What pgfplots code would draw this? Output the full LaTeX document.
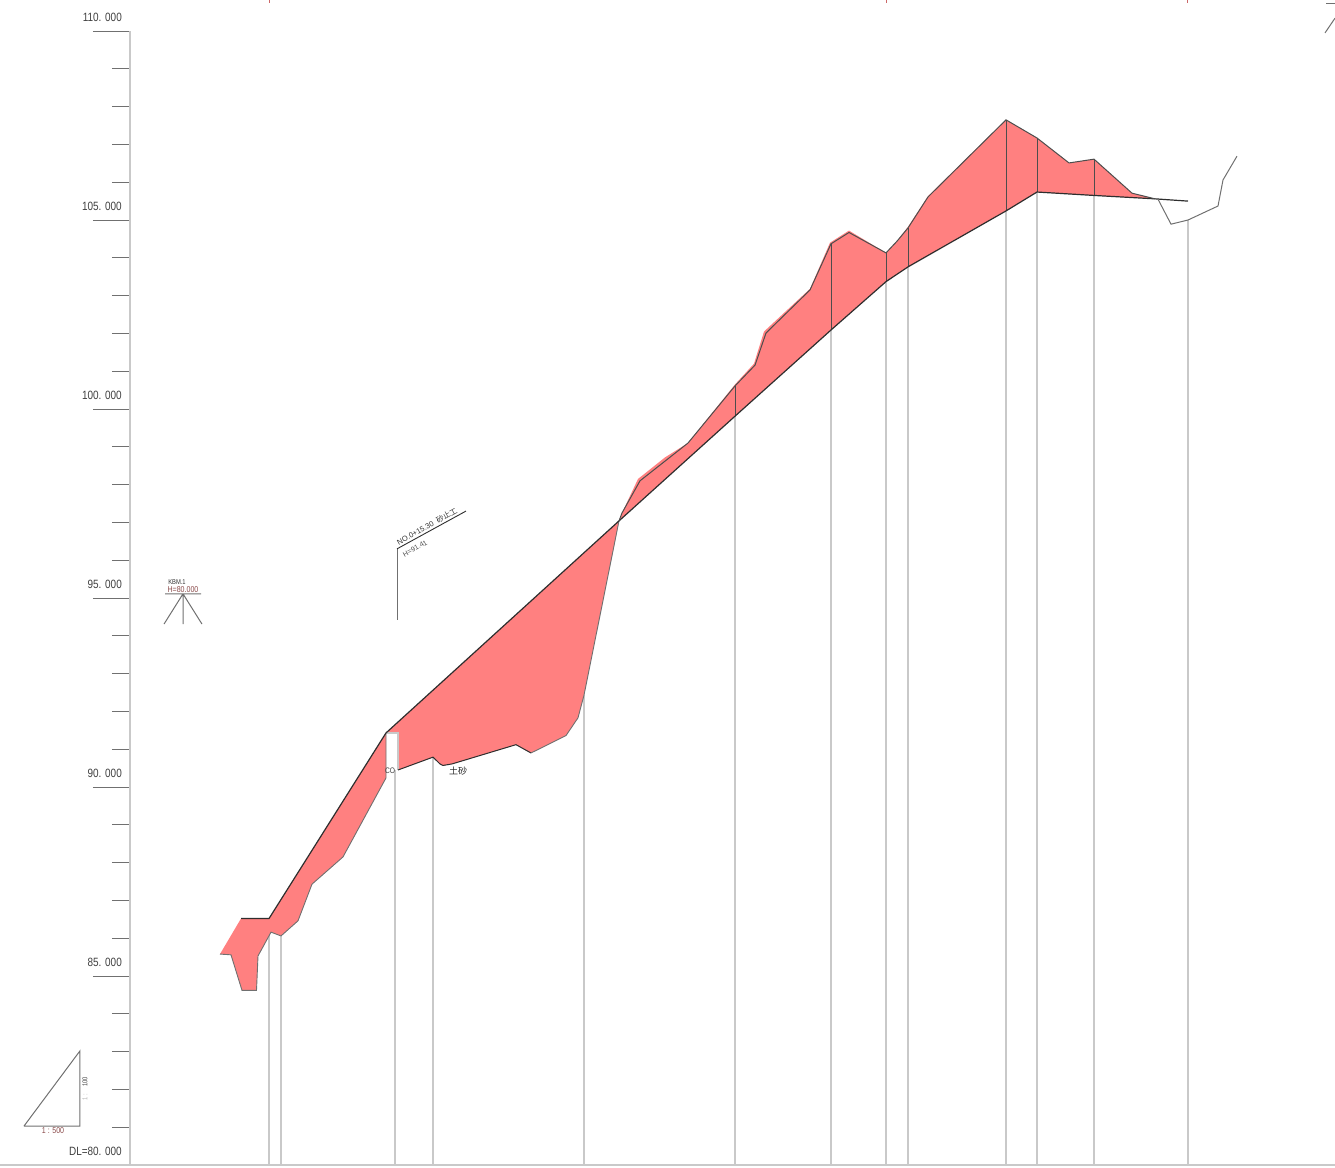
\documentclass[border=0pt]{standalone}
\usepackage{fontspec}
\setmainfont[FakeStretch=0.83]{Liberation Sans}
\newfontfamily\notefont{Liberation Sans}
\newfontfamily\jpfont{Noto Sans CJK JP}
\usepackage{pgfplots}
\pgfplotsset{compat=1.18}
\definecolor{cutred}{HTML}{FF8080}
\definecolor{darkline}{HTML}{2E2E2E}
\definecolor{gridgray}{HTML}{C9C9C9}
\definecolor{tickgray}{HTML}{707070}
\definecolor{notebrown}{HTML}{8A4A4A}
\begin{document}
\begin{tikzpicture}
\useasboundingbox (-130pt,-2pt) rectangle (1205pt,1165pt);
\begin{axis}[
    scale only axis,
    width=1205pt,
    height=1134pt,
    xmin=130, xmax=1335,
    ymin=80, ymax=110,
    clip=false,
    axis lines*=left,
    axis line style={gridgray, line width=2pt},
    xtick=\empty,
    ytick={80,85,90,95,100,105,110},
    yticklabels={DL=80. 000,85. 000,90. 000,95. 000,100. 000,105. 000,110. 000},
    minor ytick={81,82,83,84,86,87,88,89,91,92,93,94,96,97,98,99,101,102,103,104,106,107,108,109},
    tick align=outside,
    major tick length=37pt,
    minor tick length=18pt,
    tick style={tickgray, line width=0.9pt},
    yticklabel style={anchor=east, inner sep=0pt, xshift=29pt, yshift=14pt, font=\fontsize{12}{14}\selectfont, text=black!75},
    unbounded coords=jump,
]
% baseline left of the axis
\addplot[gridgray, line width=1.2pt] coordinates {(0,80) (130,80)};
% station verticals
\addplot[gridgray, line width=1.3pt] coordinates {
 (269,80) (269,86.16) (269,nan)
 (281,80) (281,86.06) (281,nan)
 (395,80) (395,90.45) (395,nan)
 (433,80) (433,90.79) (433,nan)
 (584,80) (584,92.43) (584,nan)
 (735,80) (735,99.81) (735,nan)
 (831,80) (831,102.09) (831,nan)
 (886,80) (886,103.37) (886,nan)
 (908,80) (908,103.76) (908,nan)
 (1006,80) (1006,105.24) (1006,nan)
 (1037,80) (1037,105.74) (1037,nan)
 (1094,80) (1094,105.65) (1094,nan)
 (1188,80) (1188,105.00)
};
% cut area, left part
\addplot[fill=cutred, draw=none] coordinates {
 (220,85.58) (241,86.52) (269,86.52) (386,91.43) (386,90.24) (343,88.15) (312,87.43) (298,86.46)
 (281,86.06) (271,86.16) (258,85.53) (256.5,84.62) (242,84.62) (231,85.56) (220,85.58)
};
% cut area, embankment to the crossing
\addplot[fill=cutred, draw=none] coordinates {
 (386,91.43) (619,97.04) (584,92.43) (578,91.83) (566,91.36) (531,90.90) (516,91.12) (452,90.61)
 (443,90.57) (440,90.61) (433,90.79) (398,90.45) (398,91.43) (386,91.43)
};
% cut area, upper slope
\addplot[fill=cutred, draw=none] coordinates {
 (619,97.04) (622,97.25) (638,98.15) (665,98.72) (688,99.10) (735,100.65) (754,101.20) (764,102.05)
 (810,103.18) (830,104.40) (849,104.72) (886,104.13) (897,104.44) (908,104.82) (928,105.63) (1006,107.65)
 (1037,107.17) (1069,106.51) (1094,106.61) (1132,105.71) (1155,105.56) (1094,105.65) (1037,105.74)
 (1006,105.24) (908,103.76) (886,103.37) (831,102.09) (735,99.81) (619,97.04)
};
% stations through the cut
\addplot[darkline!85, line width=1pt] coordinates {
 (735,99.81) (735,100.61) (735,nan)
 (831,102.09) (831,104.37) (831,nan)
 (886,103.37) (886,104.13) (886,nan)
 (908,103.76) (908,104.79) (908,nan)
 (1006,105.24) (1006,107.65) (1006,nan)
 (1037,105.74) (1037,107.17) (1037,nan)
 (1094,105.65) (1094,106.61)
};
% white gap at the culvert
\addplot[gridgray, line width=1.6pt] coordinates {(387,91.43) (398,91.43) (398,90.45)};
% ground line, lower edge on the left and middle
\addplot[tickgray, line width=0.9pt] coordinates {
 (220,85.58) (231,85.56) (242,84.62) (256.5,84.62) (258,85.53) (271,86.16) (281,86.06)
 (298,86.46) (312,87.43) (343,88.15) (386,90.24) (386,91.43)
};
\addplot[tickgray, line width=0.9pt] coordinates {
 (531,90.90) (566,91.36) (578,91.83) (584,92.43) (619,97.04)
};
% design line
\addplot[darkline, line width=1.2pt] coordinates {
 (241,86.52) (269,86.52) (386,91.43) (619,97.04) (735,99.81) (831,102.09) (886,103.37) (908,103.76)
 (1006,105.24) (1037,105.74) (1094,105.65) (1155,105.56) (1188,105.50)
};
% ground line
\addplot[darkline, line width=1.0pt] coordinates {
 (398,90.45) (433,90.79) (440,90.61) (443,90.57) (452,90.61) (516,91.12) (531,90.90)
};
\addplot[darkline!85, line width=1.0pt] coordinates {
 (619,97.04) (622,97.25) (640,98.10) (688,99.10) (735,100.61) (755,101.16) (766,102.01) (810,103.15)
 (831,104.37) (849,104.67) (886,104.13) (897,104.44) (908,104.79) (928,105.61) (1006,107.65)
 (1037,107.17) (1069,106.51) (1094,106.61) (1132,105.71) (1155,105.56)
};
\addplot[tickgray, line width=1.0pt] coordinates {
 (1158,105.55) (1171,104.89) (1188,105.00) (1218,105.37) (1223,106.06) (1237,106.69)
};
% bench mark
\addplot[tickgray, line width=1pt] coordinates {(165,95.11) (201,95.11) (201,nan)
 (183,95.11) (164,94.31) (164,nan) (183,95.11) (183,94.31) (183,nan) (183,95.11) (202,94.31)};
% note leader
\addplot[tickgray, line width=1pt] coordinates {(397,94.42) (397,96.30)};
\addplot[darkline, line width=0.9pt] coordinates {(397,96.30) (466,97.30)};
% scale triangle
\addplot[tickgray, line width=1pt] coordinates {(24,81.03) (80,81.03) (80,83.02) (24,81.03)};
% stray marks cut by the page top
\addplot[cutred!80!black, line width=1pt] coordinates {(269,110.82) (269,110.75) (269,nan)
 (886,110.82) (886,110.75) (886,nan) (1187,110.82) (1187,110.75)};
\addplot[tickgray, line width=1pt] coordinates {(1325,109.95) (1335,110.34)};
\addplot[tickgray, line width=0.8pt] coordinates {(1326,110.74) (1335,110.74)};
\node[font=\fontsize{7}{8}\selectfont, text=black!80] at (axis cs:177,95.42) {KBM.1};
\node[font=\fontsize{8.5}{9}\selectfont, text=notebrown] at (axis cs:183,95.21) {H=80.000};
\node[font=\fontsize{7.5}{8}\notefont, rotate=29, text=black!80] at (axis cs:427,96.89) {NO.0+15.30\ \ {\jpfont 砂止工}};
\node[font=\fontsize{7}{8}\notefont, rotate=29, text=black!70] at (axis cs:415,96.31) {H=91.41};
\node[font=\fontsize{9}{10}\selectfont\jpfont, text=black!85] at (axis cs:458,90.42) {土砂};
\node[font=\fontsize{8}{9}\selectfont, text=black!75] at (axis cs:390,90.42) {CO};
\node[font=\fontsize{8.5}{9}\selectfont, text=notebrown] at (axis cs:53,80.90) {1 : 500};
\node[font=\fontsize{7}{8}\selectfont, rotate=90, text=black!75] at (axis cs:85,82.20) {100};
\node[font=\fontsize{7}{8}\selectfont, rotate=90, text=black!30] at (axis cs:85,81.80) {1 :};
\end{axis}
\end{tikzpicture}
\end{document}
